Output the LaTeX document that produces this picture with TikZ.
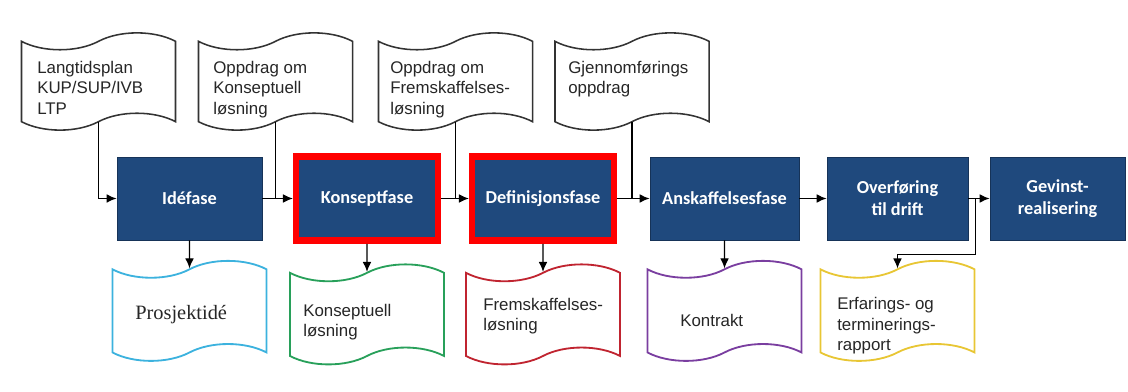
\documentclass[tikz,border=0pt]{standalone}
\usepackage{fontspec}
\setmainfont{Liberation Sans}
\newfontfamily\phasefont{Carlito}
\newfontfamily\serifdoc{Liberation Serif}
\usetikzlibrary{shapes.symbols,arrows.meta,positioning,calc}
\definecolor{phaseblue}{RGB}{31,73,125}
\definecolor{doccyan}{RGB}{60,178,222}
\definecolor{docgreen}{RGB}{40,160,90}
\definecolor{docred}{RGB}{192,36,48}
\definecolor{docpurple}{RGB}{122,62,160}
\definecolor{docyellow}{RGB}{232,198,52}
\tikzset{
  phase/.style={draw=phaseblue!70!black, fill=phaseblue, text=white, line width=0.6pt,
    minimum height=2.075cm, align=center, font=\phasefont\bfseries\fontsize{13}{15.5}\selectfont},
  chosen/.style={draw=red, line width=4.6pt, minimum height=2.11cm},
  doc/.style={tape, draw=#1, line width=1.1pt, minimum width=3.85cm, minimum height=2.43cm,
    tape bend height=12pt, inner sep=0pt},
  doc/.default=black!80,
  resdoc/.style={doc=#1, line width=1.3pt, minimum height=2.5cm},
  doctext/.style={align=left, inner sep=0pt, text=black!85, font=\fontsize{12}{14.5}\selectfont},
  link/.style={line width=0.9pt, draw=black},
  arr/.style={link, -{Latex[length=2.5mm,width=2.2mm]}},
}

\begin{document}
\begin{tikzpicture}[x=0.025cm, y=-0.025cm]
\useasboundingbox (0,0) rectangle (1128,392);
% phases
\node[phase, minimum width=3.625cm] (ide) at (189.5,198.5) {Idéfase};
\node[phase, chosen, minimum width=3.54cm] (kons) at (367,198.5) {Konseptfase};
\node[phase, chosen, minimum width=3.54cm] (def) at (543,198.5) {Definisjonsfase};
\node[phase, minimum width=3.725cm] (ansk) at (724.5,198.5) {Anskaffelsesfase};
\node[phase, minimum width=3.525cm] (over) at (897.5,198.5) {Overføring\\til drift};
\node[phase, minimum width=3.375cm] (gev) at (1057.5,198.5) {Gevinst-\\realisering};
% input documents
\node[doc] (lang) at (98.5,81.5) {};
\node[doc] (oppk) at (275.5,81.5) {};
\node[doc] (oppf) at (455.5,81.5) {};
\node[doc] (gjen) at (632,81.5) {};
\node[doctext, anchor=north west] (langtxt) at (37,61) {Langtidsplan\\KUP/SUP/IVB\\LTP};
\node[doctext, anchor=north west] (oppktxt) at (213,61) {Oppdrag om\\Konseptuell\\løsning};
\node[doctext, anchor=north west] (oppftxt) at (390,61) {Oppdrag om\\Fremskaffelses-\\løsning};
\node[doctext, anchor=north west] (gjentxt) at (568,61) {Gjennomførings\\oppdrag};
% output documents
\node[resdoc=doccyan, below=0.7cm of ide] (ideres) {};
\node[resdoc=docgreen, below=0.7cm of kons] (konsres) {};
\node[resdoc=docred, below=0.7cm of def] (defres) {};
\node[resdoc=docpurple, below=0.7cm of ansk] (anskres) {};
\node[resdoc=docyellow, below=0.7cm of over] (overres) {};
\node[doctext, anchor=west, font=\serifdoc\fontsize{14.5}{16}\selectfont] (iderestxt) at (135,315) {Prosjektidé};
\node[doctext, anchor=west] (konsrestxt) at (303,322) {Konseptuell\\løsning};
\node[doctext, anchor=west] (defrestxt) at (483,316) {Fremskaffelses-\\løsning};
\node[doctext, anchor=west] (anskrestxt) at (680,320) {Kontrakt};
\node[doctext, anchor=west] (overrestxt) at (837,326) {Erfarings- og\\terminerings-\\rapport};
% flow
\draw[arr] (lang.south) |- (ide.west);
\draw[link] (oppk.south) -- (oppk.south |- ide.east);
\draw[link] (oppf.south) -- (oppf.south |- kons.east);
\draw[link] (gjen.south) -- (gjen.south |- def.east);
\draw[arr] (ide) -- (kons);
\draw[arr] (kons) -- (def);
\draw[arr] (def) -- (ansk);
\draw[arr] (ansk) -- (over);
\draw[arr] (over) -- (gev);
\coordinate (tap) at ($(over.east)!0.32!(gev.west)$);
\draw[arr] (tap) -- ++(0,56) -| (overres.north);
\draw[arr] (ide) -- (ideres);
\draw[arr] (kons) -- (konsres);
\draw[arr] (def) -- (defres);
\draw[arr] (ansk) -- (anskres);
\end{tikzpicture}
\end{document}
